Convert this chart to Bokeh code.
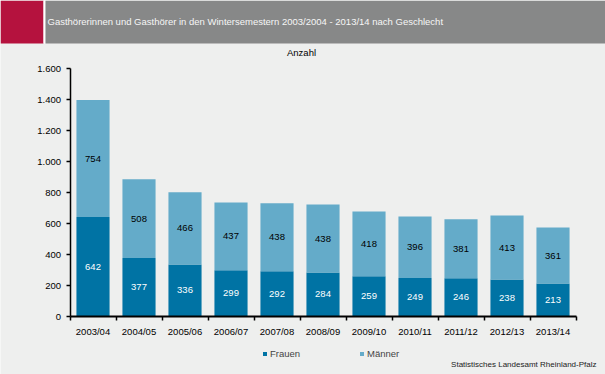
from bokeh.plotting import figure
from bokeh.models import (ColumnDataSource, Range1d, FixedTicker, LabelSet, Label,
                          Legend, LegendItem, BoxAnnotation)
from bokeh.embed import file_html
from bokeh.resources import INLINE
from bokeh.core.properties import value

# ---- data ----
years = ["2003/04", "2004/05", "2005/06", "2006/07", "2007/08", "2008/09",
         "2009/10", "2010/11", "2011/12", "2012/13", "2013/14"]
frauen = [642, 377, 336, 299, 292, 284, 259, 249, 246, 238, 213]
maenner = [754, 508, 466, 437, 438, 438, 418, 396, 381, 413, 361]
y_ticks = [0, 200, 400, 600, 800, 1000, 1200, 1400, 1600]
y_tick_labels = ["0", "200", "400", "600", "800", "1.000", "1.200", "1.400", "1.600"]

title_text = "Gasthörerinnen und Gasthörer in den Wintersemestern 2003/2004 - 2013/14 nach Geschlecht"
unit_text = "Anzahl"
source_text = "Statistisches Landesamt Rheinland-Pfalz"

# ---- styles / layout (pixels) ----
FONT = "Liberation Sans"
BG = "#eeefee"
DARK = "#0073a4"
LIGHT = "#64abc9"
HEADER_GRAY = "#878888"
HEADER_RED = "#b5123e"
W, H = 605, 374
X0_PX, X_STEP_PX = 92.5, 46.0   # centre of first category, category pitch
Y0_PX, Y_TOP_PX = 316.0, 68.0   # pixel rows of value 0 and of y_max
Y_MAX = 1600
PX_PER_UNIT = (Y0_PX - Y_TOP_PX) / Y_MAX

x_range = Range1d(-X0_PX / X_STEP_PX, (W - X0_PX) / X_STEP_PX)
y_range = Range1d(-(H - Y0_PX) / PX_PER_UNIT, Y0_PX / PX_PER_UNIT)

p = figure(width=W, height=H, x_range=x_range, y_range=y_range,
           toolbar_location=None, output_backend="svg", min_border=0,
           outline_line_color=None, background_fill_color=BG, border_fill_color=BG)
p.title.visible = False
p.grid.visible = False

def sy(page_y):
    return H - page_y

# header
p.add_layout(BoxAnnotation(left=0, right=43, top=sy(0), bottom=sy(43),
                           left_units="screen", right_units="screen",
                           top_units="screen", bottom_units="screen",
                           fill_color=HEADER_RED, fill_alpha=1, line_color=None))
p.add_layout(BoxAnnotation(left=43, right=45, top=sy(0), bottom=sy(43),
                           left_units="screen", right_units="screen",
                           top_units="screen", bottom_units="screen",
                           fill_color="white", fill_alpha=1, line_color=None))
p.add_layout(BoxAnnotation(left=45, right=W, top=sy(0), bottom=sy(43),
                           left_units="screen", right_units="screen",
                           top_units="screen", bottom_units="screen",
                           fill_color=HEADER_GRAY, fill_alpha=1, line_color=None))
p.add_layout(Label(x=47, y=sy(21), x_units="screen", y_units="screen", text=title_text,
                   text_align="left", text_baseline="middle", text_font=FONT,
                   text_font_size="9.5px", text_color="#f6f6f6"))

# bars
idx = list(range(len(years)))
src = ColumnDataSource(dict(
    x=idx, Frauen=frauen, Maenner=maenner,
    f_y=[f / 2 for f in frauen],
    m_y=[f + m / 2 for f, m in zip(frauen, maenner)],
    f_lab=[str(v) for v in frauen],
    m_lab=[str(v) for v in maenner],
))
rs = p.vbar_stack(["Frauen", "Maenner"], x="x", width=0.72, color=[DARK, LIGHT],
                  line_color=None, source=src)

p.add_layout(LabelSet(x="x", y="f_y", text="f_lab", source=src, text_align="center",
                      text_baseline="middle", text_color="white",
                      text_font=value(FONT), text_font_size="9.5px"))
p.add_layout(LabelSet(x="x", y="m_y", text="m_lab", source=src, text_align="center",
                      text_baseline="middle", text_color="black",
                      text_font=value(FONT), text_font_size="9.5px"))

# y axis
ya = p.yaxis[0]
ya.fixed_location = -0.5
ya.bounds = (0, Y_MAX)
ya.ticker = FixedTicker(ticks=y_ticks, minor_ticks=[])
ya.major_label_overrides = {t: l for t, l in zip(y_ticks, y_tick_labels)}
ya.axis_line_width = 1.5
ya.major_tick_out = 4
ya.major_tick_in = 0
ya.major_tick_line_width = 1.5
ya.major_label_standoff = 5
ya.major_label_text_font = FONT
ya.major_label_text_font_size = "9.5px"
ya.major_label_text_color = "black"

# x axis
xa = p.xaxis[0]
xa.fixed_location = 0
xa.bounds = (-0.5, len(years) - 0.5)
xa.ticker = FixedTicker(ticks=idx, minor_ticks=[i - 0.5 for i in range(len(years) + 1)])
xa.major_label_overrides = {i: y for i, y in zip(idx, years)}
xa.major_tick_line_color = None
xa.minor_tick_out = 4
xa.minor_tick_in = 0
xa.minor_tick_line_width = 1.5
xa.minor_tick_line_color = "black"
xa.axis_line_width = 2
xa.major_label_standoff = 3
xa.major_label_text_font = FONT
xa.major_label_text_font_size = "9.5px"
xa.major_label_text_color = "black"

# unit label and source
p.add_layout(Label(x=301, y=sy(52), x_units="screen", y_units="screen", text=unit_text,
                   text_align="center", text_baseline="middle", text_font=FONT,
                   text_font_size="9.5px", text_color="black"))
p.add_layout(Label(x=596, y=sy(364), x_units="screen", y_units="screen", text=source_text,
                   text_align="right", text_baseline="middle", text_font=FONT,
                   text_font_size="8px", text_color="#222222"))

legend = Legend(items=[LegendItem(label="Frauen", renderers=[rs[0]]),
                       LegendItem(label="Männer", renderers=[rs[1]])],
                orientation="horizontal", location=(262, sy(359)),
                glyph_width=5, glyph_height=5, label_standoff=3, label_width=89,
                spacing=0, padding=0, margin=0, border_line_color=None,
                background_fill_alpha=0, label_text_font=FONT,
                label_text_font_size="9.5px", label_height=10)
p.add_layout(legend)

open("out.html", "w").write(file_html(p, INLINE))
